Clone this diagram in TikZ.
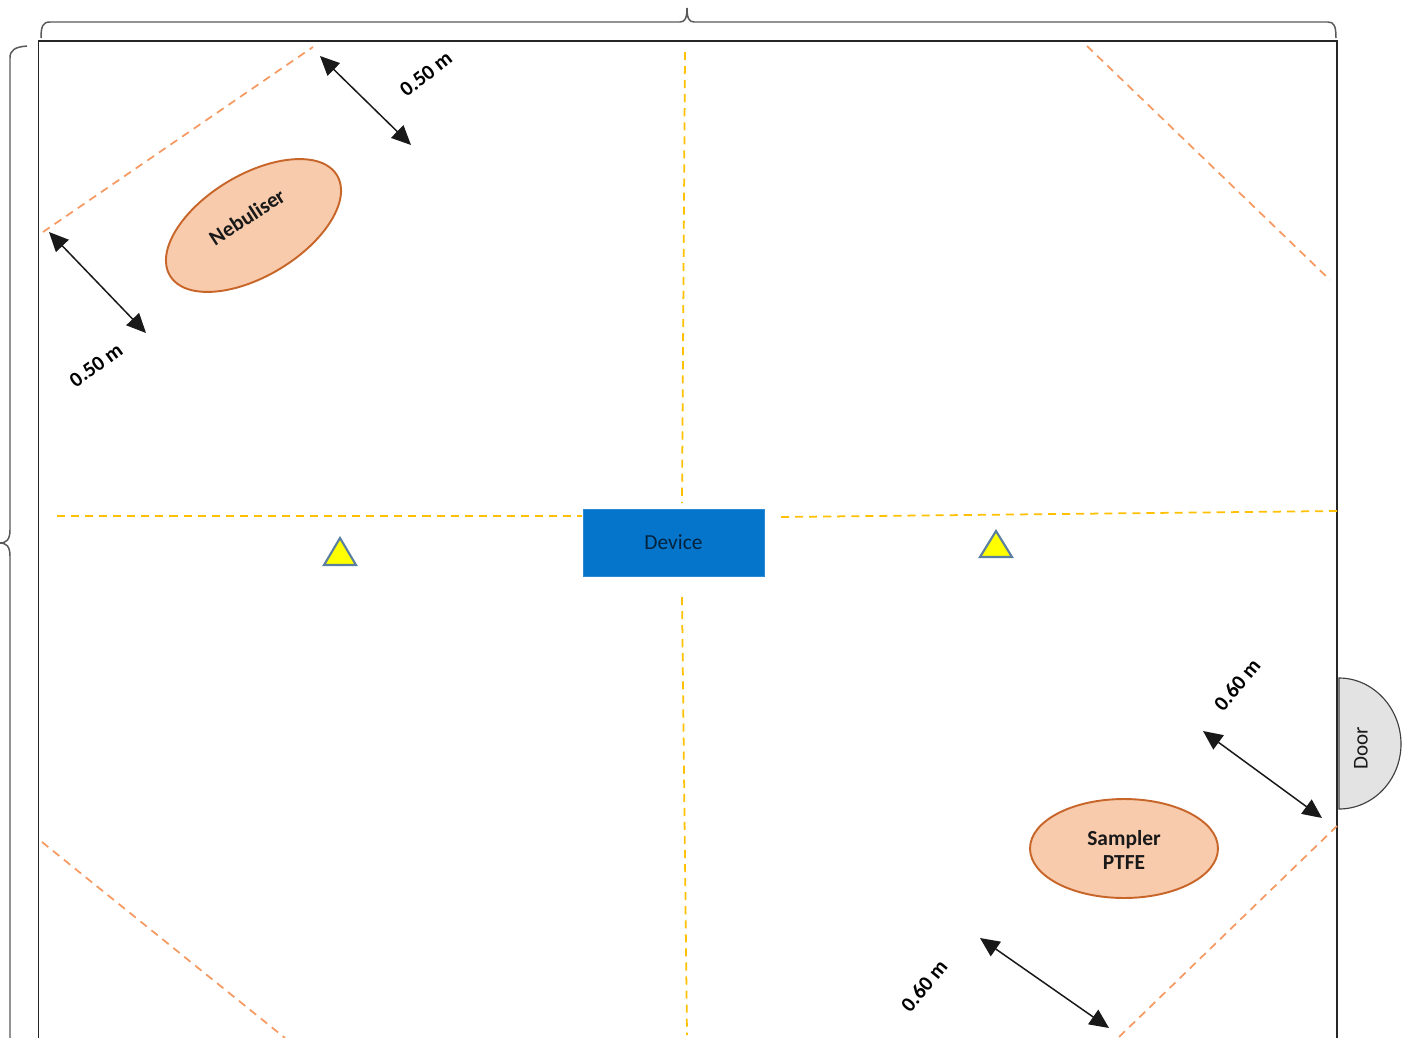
\documentclass[tikz,border=0pt]{standalone}
\usepackage{fontspec}
\setmainfont{Carlito}
\usetikzlibrary{arrows.meta,shapes.geometric}
\definecolor{orangedash}{HTML}{F49A62}
\definecolor{yellowdash}{HTML}{FFC000}
\definecolor{blobfill}{HTML}{F8CBAD}
\definecolor{blobline}{HTML}{C8662A}
\definecolor{devblue}{HTML}{0575CB}
\definecolor{triline}{HTML}{5A7FA0}
\definecolor{trifill}{RGB}{255,255,0}
\tikzset{
  x=0.02cm,y=-0.02cm,
  framefill/.style={draw=black!85,line width=0.6pt},
  bracket/.style={draw=black!65,line width=0.85pt},
  odash/.style={draw=orangedash,line width=1pt,dash pattern=on 4.6pt off 3.4pt},
  ydash/.style={draw=yellowdash,line width=1pt,dash pattern=on 4.6pt off 3.4pt},
  blob/.style={ellipse,draw=blobline,fill=blobfill,line width=1.1pt,inner sep=0pt},
  blobtext/.style={align=center,font=\fontsize{12.2}{13.7}\selectfont\bfseries,text=black!90,inner sep=0pt},
  dim/.style={draw=black!90,line width=0.85pt,{Triangle[length=11pt,width=10pt]}-{Triangle[length=11pt,width=10pt]}},
  dimlabel/.style={font=\fontsize{12}{13}\selectfont\bfseries,text=black,inner sep=0pt},
  marker/.style={draw=triline,fill=trifill,line width=1.2pt,line join=miter},
}
\begin{document}
\begin{tikzpicture}
\useasboundingbox (0,0) rectangle (1407,1038);
\clip (0,0) rectangle (1407,1038);
% frame
\draw[framefill] (38.6,1040) -- (38.6,41) -- (1337,41) -- (1337,1040);
% brackets
\draw[bracket] (41,38) .. controls (41,26) and (43,22) .. (50,22) -- (680,22) .. controls (685,22) and (687,18) .. (687,8) .. controls (687,18) and (689,22) .. (694,22) -- (1328,22) .. controls (1334,22) and (1336,26) .. (1336,38);
\draw[bracket] (27,46) .. controls (15,47) and (10,50) .. (10,58) -- (10,530) .. controls (10,540) and (6,543) .. (0,543) .. controls (6,543) and (10,546) .. (10,556) -- (10,1040);
% named ends
\coordinate (oa1) at (43,232); \coordinate (oa2) at (313,47);
\coordinate (ob1) at (1087,46); \coordinate (ob2) at (1330,280);
\coordinate (oc1) at (42,842); \coordinate (oc2) at (285,1038);
\coordinate (od1) at (1337,826); \coordinate (od2) at (1118,1038);
\coordinate (ya1) at (685,52); \coordinate (ya2) at (682,503);
\coordinate (yb1) at (682,597); \coordinate (yb2) at (687,1035);
\coordinate (yc1) at (57,516); \coordinate (yc2) at (582,516);
\coordinate (yd1) at (781,517); \coordinate (yd2) at (1337,511);
\coordinate (da1) at (320,56); \coordinate (da2) at (411,145);
\coordinate (db1) at (49,232); \coordinate (db2) at (146,333);
\coordinate (dc1) at (1203,731); \coordinate (dc2) at (1322,818);
\coordinate (dd1) at (980,938); \coordinate (dd2) at (1109,1028);
% dashed guides
\draw[odash] (oa1) -- (oa2);
\draw[odash] (ob1) -- (ob2);
\draw[odash] (oc1) -- (oc2);
\draw[odash] (od1) -- (od2);
\draw[ydash] (ya1) -- (ya2);
\draw[ydash] (yb1) -- (yb2);
\draw[ydash] (yc1) -- (yc2);
\draw[ydash] (yd1) -- (yd2);
% device
\node[draw=devblue!85!white,fill=devblue,minimum width=3.62cm,minimum height=1.34cm,inner sep=0pt,line width=0.4pt,text=black!70!devblue,font=\fontsize{12.2}{13}\selectfont] (device) at (673.5,542.5) {\raisebox{-2pt}{Device}};
% ellipses
\node[blob,minimum width=3.9cm,minimum height=2.03cm,rotate=31] (nebuliser) at (253.5,225.5) {};
\node[blobtext,rotate=33] (nebtext) at (247,217) {Nebuliser};
\node[blob,minimum width=3.76cm,minimum height=1.98cm] (sampler) at (1124,848.5) {};
\node[blobtext] (samptext) at (1124,850) {Sampler\\PTFE};
% triangles
\draw[marker] (340,538) -- (356,565) -- (324,565) -- cycle;
\draw[marker] (996,531) -- (1012,557) -- (980,557) -- cycle;
% door
\draw[draw=black!75,fill=black!11,line width=0.65pt] (1339,678) .. controls (1373,678) and (1401,708) .. (1401,744) .. controls (1401,780) and (1373,809) .. (1339,809) -- cycle;
\node[rotate=90,font=\fontsize{12}{13}\selectfont,text=black!90,inner sep=0pt] (door) at (1361,748) {Door};
% dimensions
\draw[dim] (da1) -- (da2);
\draw[dim] (db1) -- (db2);
\draw[dim] (dc1) -- (dc2);
\draw[dim] (dd1) -- (dd2);
\node[dimlabel,rotate=38] (la) at (426,74) {0.50 m};
\node[dimlabel,rotate=36] (lb) at (96,365) {0.50 m};
\node[dimlabel,rotate=50] (lc) at (1237,685) {0.60 m};
\node[dimlabel,rotate=50] (ld) at (924,986) {0.60 m};
\end{tikzpicture}
\end{document}
